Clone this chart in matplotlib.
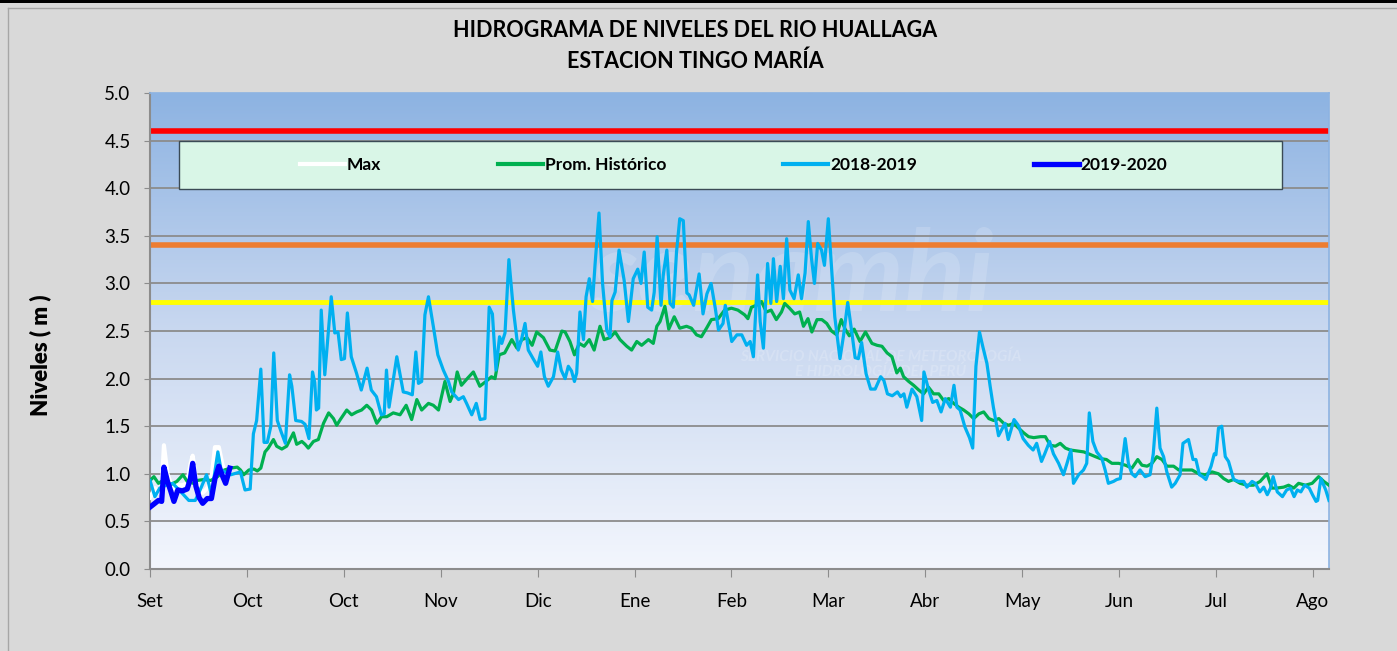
import numpy as np
import matplotlib as mpl
mpl.use('Agg')
import matplotlib.pyplot as plt
from matplotlib.lines import Line2D
from matplotlib.patches import Rectangle
from matplotlib.colors import LinearSegmentedColormap

plt.rcParams['font.family'] = ['Lato', 'DejaVu Sans']

# ---- data (day index from 1 Sep, level in m) ----
month_labels = ['Set', 'Oct', 'Oct', 'Nov', 'Dic', 'Ene', 'Feb', 'Mar', 'Abr', 'May', 'Jun', 'Jul', 'Ago']
tick_days = [0, 30, 60, 90, 120, 150, 180, 210, 240, 270, 300, 330, 360]

alert_red = 4.6
alert_orange = 3.4
alert_yellow = 2.8

max_days = [0, 1.5, 2.6, 3.6, 4.3, 5.4, 6.4, 7.4, 8.6, 10, 11.5, 12.5, 13.2, 14.2, 15.2,
            16.3, 17.7, 19, 20.1, 21.3, 22.4, 23.4, 24.7]
max_vals = [0.75, 0.85, 0.80, 0.85, 1.30, 1.00, 0.90, 0.85, 0.88, 0.88, 0.90, 1.10, 1.19, 0.95, 0.85,
            0.80, 0.85, 0.95, 1.28, 1.28, 1.10, 1.00, 1.07]

prom_days = [0, 1.2, 2.6, 4, 6, 8.3, 10.2, 11.5, 13.4, 14.6, 16.7, 18.8, 20.9, 23, 25, 27, 28, 29,
             30.6, 32.2, 33.2, 34.3, 35.6, 36.6, 38.2, 39.2, 40.8, 42.3, 44.4, 45.4, 47, 48, 49,
             50.6, 52.1, 53.7, 55.3, 56.8, 57.8, 58.9, 60.9, 62.4, 64, 65.5, 67.1, 68.6, 70.2,
             71.7, 73.3, 75.3, 77.4, 79.3, 81, 82.6, 84.1, 86.2, 87.7, 89.3, 91.3, 92.9, 93.9,
             95.1, 96.4, 98.2, 100.1, 102.1, 104, 105.7, 106.8, 108.1, 109.8, 112, 113.6, 115.1,
             116.7, 118.3, 119.7, 121.8, 123.8, 125.4, 127.5, 128.5, 130, 131.4, 132.9, 134.4,
             136, 137.5, 139.3, 140.6, 142.4, 144, 145.5, 147.6, 149.1, 150.7, 152.2, 154.3,
             155.8, 156.9, 157.9, 159.4, 160.6, 162.3, 164, 166.1, 167.6, 169.2, 170.7, 172.3,
             173.8, 175.9, 177.9, 180, 182, 184.1, 185.1, 186.2, 187.7, 189.3, 190.8, 192.3,
             193.9, 195.5, 196.5, 198, 199.6, 201.1, 202.3, 203.7, 204.9, 206.5, 208, 209.5,
             211, 212.6, 214, 215.2, 216.5, 218, 219.8, 221.5, 223.5, 225.1, 226.6, 228.2,
             229.7, 231.2, 232.3, 233.3, 234.9, 236.4, 238, 239.5, 241, 242.6, 244.2, 245.7,
             247.3, 248.8, 250.4, 251.9, 253.5, 255, 256.6, 258.1, 259.7, 261.2, 262.8, 264.3,
             265.8, 267.4, 268.9, 270.5, 272, 273.6, 275.7, 277.2, 278.7, 280.3, 281.8, 283.4,
             284.9, 287, 289.1, 290.6, 292.7, 294.2, 296.1, 297.8, 299.9, 302, 304, 305.8,
             307.1, 308.7, 310.2, 311.7, 313.3, 314.8, 316.9, 318.5, 320.5, 322.6, 324.7,
             326.7, 328.8, 330.8, 332.4, 333.9, 335.5, 337.5, 339.6, 341.6, 343.7, 345.8,
             347.3, 348.9, 351, 352.5, 354.1, 355.6, 357.7, 359.8, 361.8, 363.4, 365]
prom_vals = [0.93, 0.97, 0.90, 0.93, 0.88, 0.92, 0.99, 0.92, 0.90, 0.93, 0.94, 0.93, 0.97, 1.04,
             1.06, 1.07, 1.04, 0.99, 1.04, 1.05, 1.03, 1.06, 1.23, 1.27, 1.36, 1.29, 1.26, 1.29,
             1.43, 1.31, 1.34, 1.31, 1.27, 1.34, 1.36, 1.53, 1.64, 1.58, 1.51, 1.57, 1.67, 1.62,
             1.65, 1.67, 1.72, 1.67, 1.53, 1.60, 1.60, 1.64, 1.62, 1.72, 1.57, 1.78, 1.67, 1.74,
             1.72, 1.67, 1.97, 1.76, 1.84, 2.07, 1.93, 2.00, 2.07, 1.92, 1.97, 2.02, 2.00, 2.25,
             2.27, 2.41, 2.32, 2.41, 2.43, 2.35, 2.49, 2.43, 2.30, 2.29, 2.50, 2.49, 2.39, 2.25,
             2.37, 2.34, 2.41, 2.30, 2.55, 2.41, 2.43, 2.49, 2.41, 2.34, 2.30, 2.39, 2.35, 2.41,
             2.37, 2.55, 2.60, 2.76, 2.52, 2.65, 2.53, 2.55, 2.53, 2.46, 2.44, 2.53, 2.62, 2.63,
             2.72, 2.74, 2.72, 2.67, 2.63, 2.75, 2.77, 2.81, 2.70, 2.72, 2.62, 2.70, 2.79, 2.74,
             2.68, 2.70, 2.55, 2.63, 2.49, 2.62, 2.62, 2.58, 2.50, 2.46, 2.62, 2.52, 2.45, 2.52,
             2.39, 2.49, 2.37, 2.35, 2.34, 2.27, 2.23, 2.06, 2.11, 2.02, 1.97, 1.93, 1.88, 1.84,
             1.91, 1.84, 1.84, 1.77, 1.79, 1.74, 1.70, 1.67, 1.63, 1.58, 1.63, 1.65, 1.58, 1.56,
             1.58, 1.53, 1.51, 1.53, 1.48, 1.43, 1.39, 1.38, 1.39, 1.39, 1.30, 1.29, 1.32, 1.27,
             1.25, 1.24, 1.23, 1.21, 1.18, 1.16, 1.15, 1.11, 1.11, 1.09, 1.06, 1.15, 1.09, 1.08,
             1.11, 1.18, 1.15, 1.08, 1.08, 1.04, 1.04, 1.04, 1.00, 0.99, 1.02, 1.00, 0.95, 0.92,
             0.94, 0.90, 0.88, 0.88, 0.92, 1.00, 0.85, 0.85, 0.86, 0.88, 0.85, 0.90, 0.88, 0.90,
             0.97, 0.92, 0.88]

y1819_days = [0, 1.5, 3, 5, 7, 9, 12, 14, 15.5, 17.5, 19, 21, 22, 25, 28, 29.4, 31, 32, 33, 34.3,
              35.3, 36.3, 37.4, 38.3, 39.4, 40.6, 41.9, 43.2, 43.9, 45.1, 46.9, 48, 49.2, 50.3,
              51, 51.5, 52.2, 53, 54.1, 56.1, 57.2, 58.2, 59.2, 60.2, 61.1, 62.3, 63.9, 65.4,
              67.2, 68.5, 70.1, 71.6, 72.5, 73.2, 74, 76.4, 78.4, 79.7, 81.2, 82.3, 83.1, 84.1,
              85.1, 86.2, 87.7, 89.1, 90.8, 92.4, 93.4, 95.5, 97, 98, 99.6, 101, 102.2, 103.7,
              105, 106, 107.1, 108.2, 108.9, 109.9, 111.1, 112.5, 114, 115, 116.1, 117.1, 118.6,
              120, 121, 122.1, 123.3, 124.9, 126.2, 127.3, 128.5, 129.5, 130.5, 131.4, 132.1,
              133.1, 134.2, 135, 136, 137, 137.8, 139, 140.1, 141.4, 142.4, 143, 144, 145.2,
              146.8, 148.1, 149.6, 151, 152, 153, 154.1, 155.3, 156.1, 157, 158.2, 158.9, 160,
              161, 162, 163, 164, 165.1, 166.2, 166.9, 168.3, 170, 171.2, 172.4, 173.7, 175, 176,
              177.4, 178.1, 179.2, 180.1, 181.7, 183.2, 184.7, 185.8, 186.8, 188.1, 188.9, 189.9,
              191.2, 192.2, 193, 194, 195.1, 196.1, 197.1, 198.1, 199.4, 200.7, 201.7, 202.8,
              203.8, 204.8, 205.7, 206.7, 207.9, 208.8, 210, 211, 212, 213.6, 214.7, 216, 217.3,
              218.3, 219.3, 220.3, 221.7, 223.1, 224.5, 226.2, 227.2, 228.3, 229.8, 231.4, 232.4,
              233.4, 234.3, 235.9, 237.4, 238.9, 239.6, 241, 242.3, 243.6, 244.9, 246.2, 247.8,
              248.9, 249.8, 250.8, 252.3, 253.7, 254.7, 255.7, 256.8, 257.8, 259.1, 260.1, 261.1,
              262.7, 264.7, 265.7, 267.5, 268.8, 270.3, 271.9, 273.4, 274.5, 276, 277, 278.5,
              279.7, 281.3, 282.8, 283.9, 285.1, 285.9, 287.5, 289, 290, 290.8, 291.9, 293.1,
              294.7, 295.7, 296.7, 298.3, 299.3, 300.4, 301.9, 302.9, 304, 305, 306.5, 308.1,
              309.6, 310.6, 311.7, 312.7, 313.8, 314.8, 316.3, 317.4, 318.9, 319.8, 321.5, 322.9,
              323.8, 324.9, 325.9, 326.9, 328.5, 329.5, 330, 330.8, 331.8, 332.9, 333.9, 335.5,
              337, 338.6, 339.6, 341.2, 342.2, 343.6, 344.8, 345.9, 346.9, 347.7, 349, 350.6,
              351.9, 353.1, 354.2, 355.2, 356.3, 357.5, 358.9, 359.9, 361, 361.5, 362.5, 364, 365]
y1819_vals = [0.93, 0.76, 0.85, 0.88, 0.90, 0.83, 0.72, 0.72, 0.83, 0.99, 0.78, 1.23, 1.04, 0.99,
              1.02, 0.83, 0.84, 1.42, 1.56, 2.10, 1.33, 1.33, 1.50, 2.27, 1.56, 1.44, 1.32, 2.04,
              1.92, 1.56, 1.55, 1.52, 1.37, 2.07, 1.96, 1.67, 1.69, 2.72, 2.04, 2.86, 2.48, 2.49,
              2.20, 2.21, 2.69, 2.23, 2.06, 1.88, 2.11, 1.88, 1.81, 1.62, 1.63, 2.09, 1.70, 2.23,
              1.86, 1.85, 1.83, 2.28, 1.95, 1.97, 2.67, 2.86, 2.55, 2.25, 2.09, 1.97, 1.86, 1.78,
              1.81, 1.74, 1.62, 1.74, 1.57, 1.58, 2.75, 2.68, 2.09, 2.44, 2.37, 2.48, 3.25, 2.72,
              2.30, 2.41, 2.58, 2.30, 2.21, 2.13, 2.28, 2.02, 1.92, 2.02, 2.28, 2.09, 2.00, 2.13,
              2.08, 1.97, 2.06, 2.70, 2.41, 2.86, 3.05, 2.81, 3.21, 3.74, 3.00, 2.51, 2.44, 2.82,
              2.91, 3.35, 3.03, 2.60, 3.05, 3.15, 3.00, 3.33, 2.75, 2.72, 2.91, 3.49, 2.77, 3.09,
              3.35, 2.79, 2.75, 3.33, 3.68, 3.66, 2.90, 2.88, 2.77, 3.10, 2.68, 2.89, 3.00, 2.74,
              2.51, 2.58, 2.77, 2.56, 2.39, 2.46, 2.46, 2.35, 2.39, 2.23, 3.09, 2.60, 2.32, 3.21,
              2.79, 3.26, 2.81, 3.18, 2.84, 3.47, 2.93, 2.84, 3.09, 2.84, 3.11, 3.65, 3.26, 3.00,
              3.42, 3.35, 3.19, 3.68, 3.16, 2.65, 2.21, 2.45, 2.80, 2.48, 2.22, 2.21, 2.38, 2.05,
              1.89, 1.89, 2.02, 1.98, 1.84, 1.82, 1.86, 1.81, 1.84, 1.70, 1.89, 1.81, 1.56, 2.07,
              1.89, 1.75, 1.77, 1.65, 1.79, 1.70, 1.93, 1.70, 1.67, 1.49, 1.38, 1.27, 2.13, 2.49,
              2.34, 2.16, 1.92, 1.70, 1.40, 1.53, 1.36, 1.57, 1.51, 1.37, 1.30, 1.25, 1.32, 1.13,
              1.21, 1.34, 1.21, 1.11, 0.99, 1.11, 1.25, 0.90, 0.99, 1.04, 1.11, 1.64, 1.34, 1.23,
              1.16, 1.04, 0.90, 0.92, 0.94, 0.95, 1.37, 1.11, 1.00, 0.97, 1.04, 0.97, 0.99, 1.21,
              1.69, 1.27, 1.18, 1.02, 0.86, 0.90, 0.99, 1.32, 1.36, 1.15, 1.15, 0.99, 0.97, 0.94,
              1.08, 1.21, 1.20, 1.48, 1.50, 1.18, 1.13, 0.94, 0.92, 0.92, 0.86, 0.92, 0.90, 0.81,
              0.86, 0.78, 0.85, 0.97, 0.81, 0.76, 0.83, 0.85, 0.76, 0.83, 0.81, 0.88, 0.85, 0.78,
              0.71, 0.72, 0.95, 0.83, 0.72]

y1920_days = [0, 1.5, 2.6, 3.6, 4.3, 5.4, 6.4, 7.4, 8.6, 10, 11.5, 12.5, 13.2, 14.2, 15.2,
              16.3, 17.7, 19, 20.1, 21.3, 22.4, 23.4, 24.7]
y1920_vals = [0.65, 0.69, 0.72, 0.71, 1.07, 0.92, 0.82, 0.71, 0.83, 0.82, 0.84, 0.95, 1.11, 0.87,
              0.75, 0.69, 0.74, 0.74, 0.95, 1.08, 0.98, 0.90, 1.06]

# ---- figure ----
fig = plt.figure(figsize=(13.97, 6.51), dpi=100, facecolor='#d9d9d9')
fig.add_artist(Rectangle((0, 0.995), 1, 0.005, transform=fig.transFigure,
                         facecolor='black', edgecolor='none'))
fig.add_artist(Line2D([0.006, 0.006], [0, 0.988], transform=fig.transFigure, color='#a6a6a6', lw=1))
fig.add_artist(Line2D([0.006, 1], [0.988, 0.988], transform=fig.transFigure, color='#a6a6a6', lw=1))

ax = fig.add_axes([0.1074, 0.126, 0.8439, 0.731])

bg = LinearSegmentedColormap.from_list('bg', ['#8db3e2', '#c9d8f0', '#f3f6fd'])
ax.imshow(np.linspace(0, 1, 256).reshape(-1, 1), cmap=bg, extent=[0, 365, 0, 5],
          aspect='auto', origin='upper', zorder=0)

# faint watermark
ax.text(0.545, 0.61, 'senamhi', transform=ax.transAxes, fontsize=82, fontweight='bold',
        style='italic', color='white', alpha=0.16, ha='center', va='center', zorder=1)
ax.text(0.62, 0.43, 'SERVICIO NACIONAL DE METEOROLOGÍA\nE HIDROLOGÍA DEL PERÚ',
        transform=ax.transAxes, fontsize=11, fontweight='bold', style='italic',
        color='white', alpha=0.18, ha='center', va='center', zorder=1, linespacing=1.1)

for v in np.arange(0.5, 5.0, 0.5):
    ax.axhline(v, color='#8c8c8c', lw=1.3, zorder=1)

ax.axhline(alert_red, color='#ff0000', lw=4, zorder=2)
ax.axhline(alert_orange, color='#ed7d31', lw=4, zorder=2)
ax.axhline(alert_yellow, color='#ffff00', lw=3.5, zorder=2)

ax.plot(max_days, max_vals, color='white', lw=3, zorder=3)
ax.plot(prom_days, prom_vals, color='#00b050', lw=2.3, zorder=4)
ax.plot(y1819_days, y1819_vals, color='#00b0f0', lw=2.3, zorder=5)
ax.plot(y1920_days, y1920_vals, color='#0000ff', lw=3.8, zorder=6)

ax.set_xlim(0, 365)
ax.set_ylim(0, 5)
ax.set_xticks(tick_days)
ax.set_xticklabels(month_labels)
ax.set_yticks(np.arange(0, 5.01, 0.5))
ax.set_yticklabels(['%.1f' % v for v in np.arange(0, 5.01, 0.5)])
ax.tick_params(axis='x', length=6, color='#8c8c8c', labelsize=13.5, pad=11)
ax.tick_params(axis='y', length=4, color='#8c8c8c', labelsize=13.5, pad=10)
for s in ['left', 'bottom']:
    ax.spines[s].set_color('#8c8c8c')
    ax.spines[s].set_linewidth(1.5)
for s in ['top', 'right']:
    ax.spines[s].set_color('#8db3e2')
    ax.spines[s].set_linewidth(1.2)

# legend box
ax.add_patch(Rectangle((0.0246, 0.798), 0.9355, 0.101, transform=ax.transAxes,
                       facecolor='#d9f6e7', edgecolor='#3a4a55', lw=1, zorder=7))
handles = [Line2D([], [], color='white', lw=3),
           Line2D([], [], color='#00b050', lw=3),
           Line2D([], [], color='#00b0f0', lw=3),
           Line2D([], [], color='#0000ff', lw=3.8)]
leg = ax.legend(handles, ['Max', 'Prom. Histórico', '2018-2019', '2019-2020'], ncol=4,
                mode='expand', bbox_to_anchor=(0.127, 0.82, 0.736, 0.058), loc='center',
                frameon=False, borderpad=0, borderaxespad=0, handlelength=2.6,
                handletextpad=0.1, prop={'weight': 'bold', 'size': 12.5})
leg.set_zorder(8)

fig.text(0.4975, 0.953, 'HIDROGRAMA DE NIVELES DEL RIO HUALLAGA', ha='center', va='center',
         fontsize=15.5, fontweight='bold')
fig.text(0.4975, 0.906, 'ESTACION TINGO MARÍA', ha='center', va='center',
         fontsize=15.5, fontweight='bold')
fig.text(0.0286, 0.455, 'Niveles ( m )', rotation=90, ha='center', va='center',
         fontsize=16, fontweight='heavy')

plt.savefig('out.png', dpi=100, facecolor=fig.get_facecolor())
